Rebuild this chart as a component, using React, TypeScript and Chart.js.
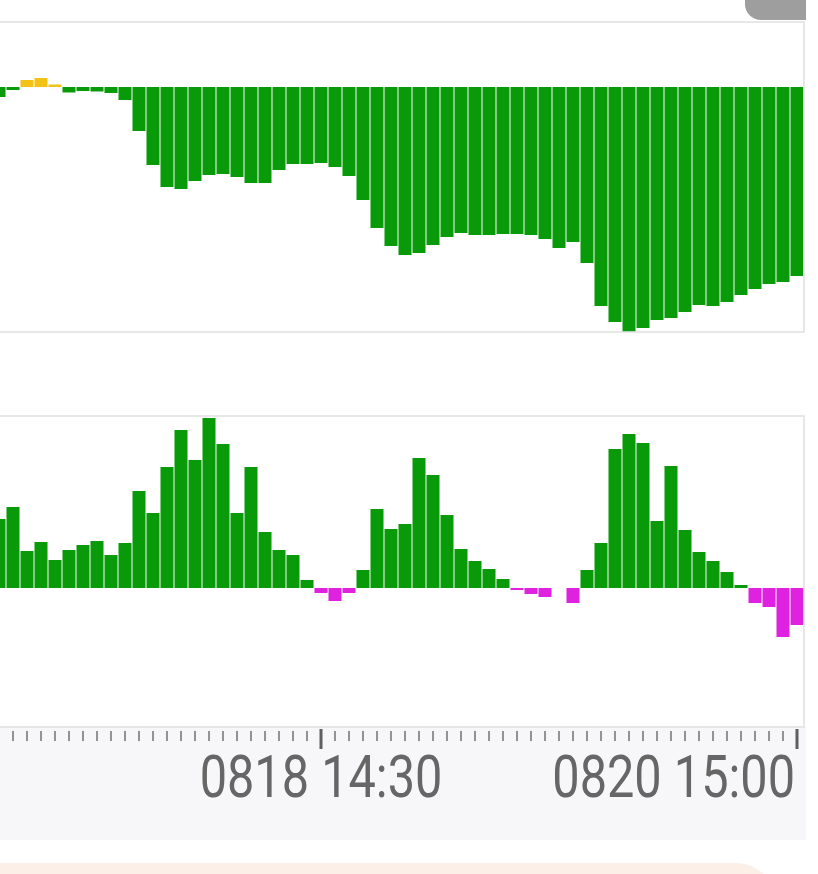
import React, { useEffect, useRef } from 'react';
import { Chart, registerables } from 'chart.js';

Chart.register(...registerables);

// ---- data ----
const upperValues = [
  -10, -3, 7, 9, 2.5, -5.5, -4, -4.5, -6, -13,
  -44, -78, -100, -102, -94, -88, -87, -90, -96, -96,
  -83, -77, -77, -76, -80, -89, -113, -141, -159, -168,
  -166, -158, -150, -146, -148, -148, -147, -147, -148, -152,
  -161, -155, -176, -219, -235, -245, -241, -233, -231, -225,
  -218, -219, -215, -208, -202, -197, -195, -189,
];

const lowerValues = [
  69, 81, 37, 46, 28, 38, 43, 47, 33, 45,
  97, 75, 121, 158, 128, 170, 144, 75, 121, 56,
  38, 33, 8, -5, -13, -5, 18, 79, 59, 64,
  130, 113, 73, 39, 27, 19, 9, -2, -6, -9,
  0, -15, 18, 45, 139, 154, 145, 67, 122, 58,
  36, 27, 16, 3, -15, -19, -49, -37,
];

const categories = upperValues.map((_, i) => 'P' + i);

const tickLabelIndex = [23, 57];
const tickLabelText = ['0818 14:30', '0820 15:00'];

const upperRange = { min: -245, max: 65 };
const lowerRange = { min: -139, max: 172 };

const GREEN = '#089a08';
const YELLOW = '#f2c314';
const MAGENTA = '#df22df';
const BORDER = '#e2e2e2';

const borderPlugin = {
  id: 'areaBorder',
  afterDraw(chart: any) {
    const { ctx, chartArea } = chart;
    ctx.save();
    ctx.strokeStyle = BORDER;
    ctx.lineWidth = 1.6;
    ctx.strokeRect(chartArea.left, chartArea.top, chartArea.right - chartArea.left, chartArea.bottom - chartArea.top);
    ctx.restore();
  },
};

const axisPlugin = {
  id: 'customAxis',
  afterDraw(chart: any) {
    const { ctx, chartArea } = chart;
    const xs = chart.scales.x;
    const base = chartArea.bottom;
    ctx.save();
    for (let i = 0; i < categories.length; i++) {
      const x = xs.getPixelForValue(i);
      const big = tickLabelIndex.includes(i);
      if (big) {
        ctx.fillStyle = '#5f5f5f';
        ctx.fillRect(x - 1.5, base + 2, 3, 20);
      } else {
        ctx.fillStyle = '#7a7a7a';
        ctx.fillRect(x - 0.8, base + 4, 1.6, 10);
      }
    }
    ctx.fillStyle = '#666666';
    ctx.font = '59px Roboto';
    ctx.textBaseline = 'alphabetic';
    tickLabelIndex.forEach((idx, k) => {
      const x = xs.getPixelForValue(idx);
      const last = idx === categories.length - 1;
      ctx.save();
      ctx.translate(last ? x - 2 : x, base + 70);
      ctx.scale(0.825, 1);
      ctx.textAlign = last ? 'right' : 'center';
      ctx.fillText(tickLabelText[k], 0, 0);
      ctx.restore();
    });
    ctx.restore();
  },
};

function makeConfig(values: number[], pos: string, neg: string, range: { min: number; max: number }, padding: any, plugins: any[]) {
  return {
    type: 'bar' as const,
    data: {
      labels: categories,
      datasets: [
        {
          data: values,
          backgroundColor: values.map((v) => (v >= 0 ? pos : neg)),
          borderWidth: 0,
          barPercentage: 0.93,
          categoryPercentage: 1,
        },
      ],
    },
    options: {
      animation: false as const,
      responsive: false,
      devicePixelRatio: 1,
      layout: { padding },
      plugins: { legend: { display: false }, tooltip: { enabled: false } },
      scales: {
        x: { display: false, offset: true },
        y: { display: false, min: range.min, max: range.max },
      },
    },
    plugins,
  };
}

function BarCanvas(props: { values: number[]; pos: string; neg: string; range: any; padding: any; plugins: any[]; style: any; width: number; height: number }) {
  const ref = useRef<HTMLCanvasElement | null>(null);
  useEffect(() => {
    if (!ref.current) return;
    const chart = new Chart(ref.current, makeConfig(props.values, props.pos, props.neg, props.range, props.padding, props.plugins) as any);
    return () => chart.destroy();
  }, []);
  return <canvas ref={ref} width={props.width} height={props.height} style={{ ...props.style, width: props.width, height: props.height }} />;
}

export default function App() {
  return (
    <div style={{ position: 'fixed', left: 0, top: 0, width: 818, height: 874, background: '#ffffff', overflow: 'hidden' }}>
      <div style={{ position: 'absolute', left: 745, top: 0, width: 61, height: 20, background: '#9e9e9e', borderBottomLeftRadius: 16 }} />
      <div style={{ position: 'absolute', left: 0, top: 727, width: 806, height: 113, background: '#f7f7f9' }} />
      <div style={{ position: 'absolute', left: -10, top: 863, width: 786, height: 60, background: '#fcefe7', borderTopRightRadius: 40 }} />
      <BarCanvas
        values={upperValues}
        pos={YELLOW}
        neg={GREEN}
        range={upperRange}
        padding={{ left: 1, right: 2, top: 22, bottom: 8 }}
        plugins={[borderPlugin]}
        style={{ position: 'absolute', left: -9, top: 0 }}
        width={815}
        height={340}
      />
      <BarCanvas
        values={lowerValues}
        pos={GREEN}
        neg={MAGENTA}
        range={lowerRange}
        padding={{ left: 1, right: 2, top: 16, bottom: 133 }}
        plugins={[borderPlugin, axisPlugin]}
        style={{ position: 'absolute', left: -9, top: 400 }}
        width={815}
        height={460}
      />
    </div>
  );
}
